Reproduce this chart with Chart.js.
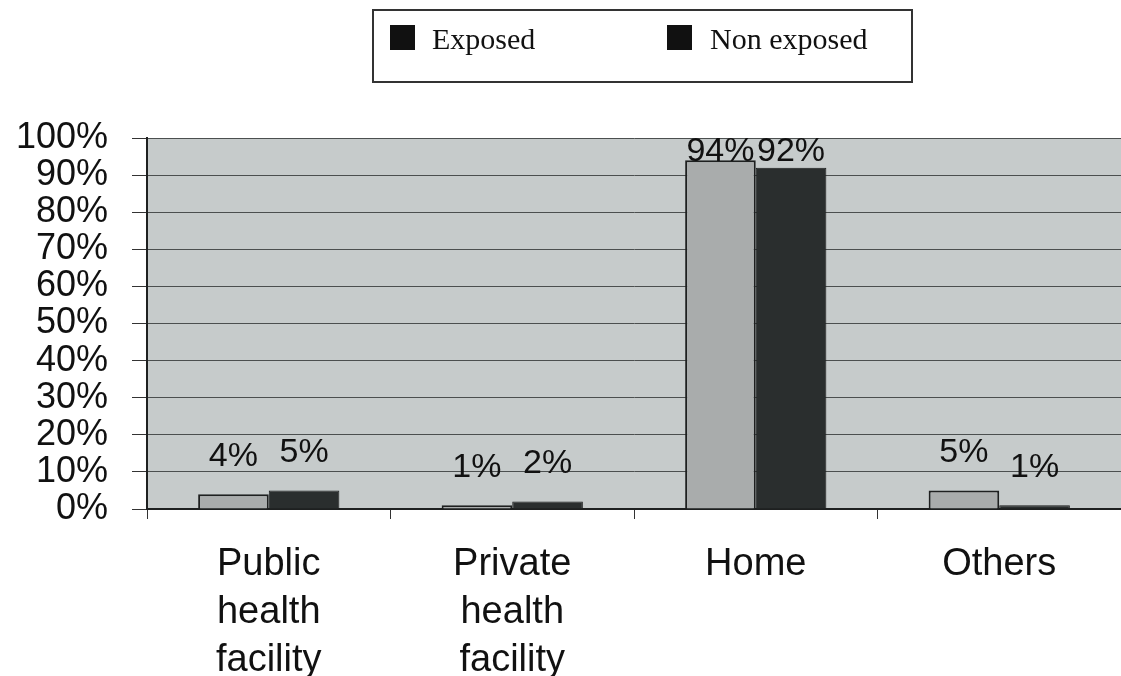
<!DOCTYPE html>
<html>
<head>
<meta charset="utf-8">
<title>Place of delivery</title>
<script src="https://cdn.jsdelivr.net/npm/chart.js@4.4.1/dist/chart.umd.min.js"></script>
<style>
  html, body { margin: 0; padding: 0; background: #ffffff; }
  canvas { display: block; }
</style>
</head>
<body>
<canvas id="chart" width="1121" height="676"></canvas>
<script>
// Place of delivery, exposed vs non exposed (percent)
const categories = [
  ['Public', 'health', 'facility'],
  ['Private', 'health', 'facility'],
  'Home',
  'Others'
];
const seriesNames = ['Exposed', 'Non exposed'];
const exposedValues = [4, 1, 94, 5];
const nonExposedValues = [5, 2, 92, 1];
const yTickLabels = ['0%', '10%', '20%', '30%', '40%', '50%', '60%', '70%', '80%', '90%', '100%'];

const INK = '#1e2020';

// Grey plot background behind the bars
const plotBackground = {
  id: 'plotBackground',
  beforeDraw(chart) {
    const { ctx, chartArea: a } = chart;
    ctx.save();
    ctx.fillStyle = '#c6cbcb';
    ctx.fillRect(a.left, a.top, a.right - a.left, a.bottom - a.top);
    ctx.restore();
  }
};

// Percentage labels above each bar
const valueLabels = {
  id: 'valueLabels',
  afterDatasetsDraw(chart) {
    const { ctx, chartArea: a } = chart;
    ctx.save();
    ctx.font = '34px "Liberation Sans", Arial, sans-serif';
    ctx.fillStyle = '#111';
    ctx.textAlign = 'center';
    ctx.textBaseline = 'middle';
    chart.data.datasets.forEach((ds, i) => {
      chart.getDatasetMeta(i).data.forEach((bar, j) => {
        const y = Math.max(bar.y - 38, a.top + 14);
        ctx.fillText(ds.data[j] + '%', bar.x, y);
      });
    });
    ctx.restore();
  }
};

// Boxed legend above the plot
const boxedLegend = {
  id: 'boxedLegend',
  afterDraw(chart) {
    const { ctx } = chart;
    const box = { x: 373, y: 10, w: 539, h: 72 };
    const items = [{ sx: 390, tx: 432 }, { sx: 667, tx: 710 }];
    ctx.save();
    ctx.fillStyle = '#ffffff';
    ctx.fillRect(box.x, box.y, box.w, box.h);
    ctx.strokeStyle = '#333';
    ctx.lineWidth = 2;
    ctx.strokeRect(box.x, box.y, box.w, box.h);
    ctx.font = '30px "Liberation Serif", "Times New Roman", serif';
    ctx.textBaseline = 'middle';
    chart.data.datasets.forEach((ds, i) => {
      const it = items[i];
      ctx.fillStyle = '#111';
      ctx.fillRect(it.sx, 25, 25, 25);
      ctx.fillText(ds.label, it.tx, 41);
    });
    ctx.restore();
  }
};

new Chart(document.getElementById('chart'), {
  type: 'bar',
  data: {
    labels: categories,
    datasets: [
      {
        label: seriesNames[0],
        data: exposedValues,
        backgroundColor: '#a9acac',
        borderColor: INK,
        borderWidth: 2,
        categoryPercentage: 0.58,
        barPercentage: 1.0
      },
      {
        label: seriesNames[1],
        data: nonExposedValues,
        backgroundColor: '#2a2e2e',
        borderColor: '#1a1c1c',
        borderWidth: 1,
        categoryPercentage: 0.58,
        barPercentage: 1.0
      }
    ]
  },
  options: {
    responsive: false,
    animation: false,
    layout: { padding: { top: 138, right: 0, left: 0, bottom: 0 } },
    plugins: {
      legend: { display: false },
      tooltip: { enabled: false }
    },
    scales: {
      x: {
        afterFit(scale) { scale.height = 167; },
        grid: {
          offset: true,
          drawOnChartArea: false,
          drawTicks: true,
          tickLength: 10,
          tickColor: '#333',
          lineWidth: 1
        },
        border: { display: true, color: INK, width: 2 },
        ticks: {
          color: '#111',
          padding: 22,
          maxRotation: 0,
          autoSkip: false,
          font: { family: '"Liberation Sans", Arial, sans-serif', size: 38, lineHeight: '48px' }
        }
      },
      y: {
        min: 0,
        max: 100,
        afterFit(scale) { scale.width = 147; },
        grid: {
          color: '#4b4f4f',
          lineWidth: 1,
          drawTicks: true,
          tickLength: 15,
          tickColor: '#333'
        },
        border: { display: true, color: INK, width: 2 },
        ticks: {
          color: '#111',
          padding: 24,
          stepSize: 10,
          autoSkip: false,
          callback: (v) => yTickLabels[Math.round(v / 10)],
          font: { family: '"Liberation Sans", Arial, sans-serif', size: 36, lineHeight: 1 }
        }
      }
    }
  },
  plugins: [plotBackground, valueLabels, boxedLegend]
});
</script>
</body>
</html>
